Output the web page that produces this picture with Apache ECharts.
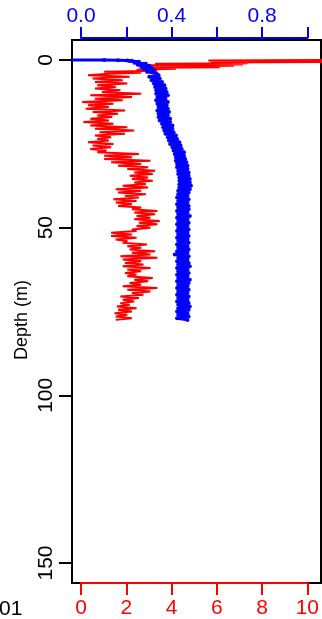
<!DOCTYPE html>
<html>
<head>
<meta charset="utf-8">
<script src="https://cdn.jsdelivr.net/npm/echarts@6/dist/echarts.min.js"></script>
<style>
  html, body { margin: 0; padding: 0; background: #fff; }
  #main { width: 322px; height: 619px; }
</style>
</head>
<body>
<div id="main"></div>
<script>
// tick labels
const depthTicks = [0, 50, 100, 150];
const bottomTicks = [0, 2, 4, 6, 8, 10];
const topTicks = [0, 0.2, 0.4, 0.6, 0.8, 1.0];
const topLabels = ['0.0', '', '0.4', '', '0.8', ''];

// near-surface samples (m)
const redSurfDepth = [0, 0.1, 0.25, 0.4, 0.55, 0.7, 0.9, 1.1, 1.3, 1.5, 1.7, 1.9, 2.1, 2.3, 2.6, 2.9, 3.2, 3.5, 3.8, 4.1];
const redSurfVal = [10.6, 5.5, 10.6, 6.0, 10.6, 5.6, 7.2, 3.2, 7.0, 3.0, 6.6, 3.1, 6.0, 3.1, 4.1, 2.4, 3.3, 1.0, 2.6, 1.2];

const blueSurfDepth = [0, 0, 0.05, 0.1, 0.2, 0.3, 0.5, 0.8, 1.1, 1.4, 1.7, 2.0, 2.3, 2.6, 3.0, 3.5, 4.0];
const blueSurfVal = [-0.04, 0.1, 0.16, 0.2, 0.22, 0.21, 0.25, 0.23, 0.28, 0.245, 0.295, 0.26, 0.305, 0.27, 0.315, 0.285, 0.325];

// profile samples below 4.5 m
const depth = [
  4.5, 5, 5.5, 6, 6.5, 7, 7.5, 8, 8.5, 9,
  9.5, 10, 10.5, 11, 11.5, 12, 12.5, 13, 13.5, 14,
  14.5, 15, 15.5, 16, 16.5, 17, 17.5, 18, 18.5, 19,
  19.5, 20, 20.5, 21, 21.5, 22, 22.5, 23, 23.5, 24,
  24.5, 25, 25.5, 26, 26.5, 27, 27.5, 28, 28.5, 29,
  29.5, 30, 30.5, 31, 31.5, 32, 32.5, 33, 33.5, 34,
  34.5, 35, 35.5, 36, 36.5, 37, 37.5, 38, 38.5, 39,
  39.5, 40, 40.5, 41, 41.5, 42, 42.5, 43, 43.5, 44,
  44.5, 45, 45.5, 46, 46.5, 47, 47.5, 48, 48.5, 49,
  49.5, 50, 50.5, 51, 51.5, 52, 52.5, 53, 53.5, 54,
  54.5, 55, 55.5, 56, 56.5, 57, 57.5, 58, 58.5, 59,
  59.5, 60, 60.5, 61, 61.5, 62, 62.5, 63, 63.5, 64,
  64.5, 65, 65.5, 66, 66.5, 67, 67.5, 68, 68.5, 69,
  69.5, 70, 70.5, 71, 71.5, 72, 72.5, 73, 73.5, 74,
  74.5, 75, 75.5, 76, 76.5, 77, 77.5
];

const redVal = [
  0.3, 2.1, 0.5, 1.8, 0.6, 2.0, 0.7, 1.5, 0.6, 1.7,
  0.9, 2.6, 0.4, 2.2, 0.6, 1.8, 0.05, 1.4, 0.3, 1.2,
  0.2, 1.9, 0.5, 1.6, 0.7, 1.35, 0.4, 1.2, 0.1, 1.4,
  0.4, 2.0, 0.6, 2.3, 0.8, 1.9, 0.6, 1.3, 0.7, 1.2,
  0.3, 1.4, 0.5, 1.3, 0.4, 1.1, 0.7, 2.5, 1.0, 2.2,
  1.0, 3.0, 1.3, 2.6, 1.6, 2.9, 2.0, 3.2, 2.3, 3.1,
  2.1, 2.9, 2.2, 3.1, 2.3, 2.8, 1.8, 2.9, 1.5, 2.6,
  1.6, 2.8, 1.9, 2.5, 1.4, 2.4, 1.5, 2.2, 1.6, 2.6,
  2.2, 3.3, 2.3, 3.2, 2.4, 3.0, 2.3, 3.4, 2.5, 3.3,
  2.4, 3.0, 2.2, 2.4, 1.3, 2.2, 1.3, 2.4, 1.5, 2.0,
  1.8, 2.85, 2.0, 2.6, 2.1, 3.2, 2.2, 3.0, 1.7, 3.3,
  1.8, 2.6, 1.9, 2.7, 1.8, 3.0, 2.0, 2.6, 1.9, 2.4,
  2.0, 3.1, 2.3, 2.9, 2.1, 2.6, 1.8, 3.3, 2.0, 3.0,
  2.2, 2.7, 1.7, 2.5, 1.8, 2.3, 1.7, 2.1, 1.55, 2.4,
  1.6, 2.2, 1.45, 2.0, 1.5, 2.2, 1.5
];

const blueVal = [
  0.335, 0.295, 0.34, 0.305, 0.35, 0.315, 0.36, 0.32, 0.365, 0.325,
  0.37, 0.325, 0.375, 0.33, 0.365, 0.325, 0.375, 0.33, 0.37, 0.335,
  0.375, 0.33, 0.38, 0.335, 0.375, 0.335, 0.385, 0.34, 0.385, 0.35,
  0.395, 0.355, 0.395, 0.36, 0.4, 0.365, 0.41, 0.375, 0.415, 0.38,
  0.425, 0.385, 0.43, 0.395, 0.435, 0.40, 0.445, 0.405, 0.445, 0.41,
  0.45, 0.41, 0.455, 0.415, 0.46, 0.415, 0.46, 0.42, 0.465, 0.42,
  0.465, 0.425, 0.47, 0.425, 0.47, 0.425, 0.475, 0.425, 0.47, 0.42,
  0.465, 0.42, 0.46, 0.415, 0.465, 0.42, 0.46, 0.415, 0.465, 0.42,
  0.465, 0.415, 0.46, 0.42, 0.47, 0.415, 0.46, 0.42, 0.465, 0.415,
  0.46, 0.42, 0.465, 0.415, 0.46, 0.42, 0.465, 0.415, 0.46, 0.42,
  0.465, 0.415, 0.46, 0.42, 0.465, 0.415, 0.46, 0.405, 0.465, 0.42,
  0.46, 0.415, 0.465, 0.42, 0.47, 0.415, 0.46, 0.42, 0.465, 0.415,
  0.46, 0.42, 0.47, 0.415, 0.465, 0.42, 0.46, 0.415, 0.465, 0.42,
  0.46, 0.415, 0.465, 0.42, 0.46, 0.415, 0.465, 0.42, 0.47, 0.42,
  0.465, 0.415, 0.46, 0.42, 0.465, 0.415, 0.46
];

const RED = '#ff0000';
const BLUE = '#0000ff';
const FONT = 'Liberation Sans, Arial, sans-serif';

let redData = [];
redSurfDepth.forEach((d, i) => redData.push([redSurfVal[i], d]));
depth.forEach((d, i) => redData.push([redVal[i], d]));

let blueData = [];
blueSurfDepth.forEach((d, i) => blueData.push([blueSurfVal[i], d]));
depth.forEach((d, i) => blueData.push([blueVal[i], d]));

var chart = echarts.init(document.getElementById('main'));

var option = {
    animation: false,
    backgroundColor: '#fff',
    grid: [
        // plotting region (box)
        { left: 72, right: 1, top: 40, bottom: 36, show: true, borderColor: '#000', borderWidth: 2, backgroundColor: 'transparent' },
        // tick region: from first to last tick
        { left: 81, width: 231, top: 60, height: 503 }
    ],
    xAxis: [
        { gridIndex: 0, type: 'value', min: -0.39, max: 10.37, show: false },
        { gridIndex: 0, type: 'value', min: -0.039, max: 1.037, show: false },
        {
            gridIndex: 1, type: 'value', position: 'top', min: 0, max: 1, interval: 0.2, offset: 22, z: 5,
            axisLine: { show: true, onZero: false, lineStyle: { color: BLUE, width: 2 } },
            axisTick: { show: true, inside: false, length: 11, lineStyle: { color: BLUE, width: 2 } },
            axisLabel: {
                color: BLUE, fontSize: 21, fontFamily: FONT, margin: 11, showMaxLabel: true, showMinLabel: true,
                formatter: v => { let i = topTicks.findIndex(t => Math.abs(t - v) < 1e-6); return i < 0 ? '' : topLabels[i]; }
            },
            splitLine: { show: false }
        },
        {
            gridIndex: 1, type: 'value', position: 'bottom', min: 0, max: 10, interval: 2, offset: 20, z: 5,
            axisLine: { show: true, onZero: false, lineStyle: { color: RED, width: 2 } },
            axisTick: { show: true, inside: false, length: 12, lineStyle: { color: RED, width: 2 } },
            axisLabel: {
                color: RED, fontSize: 21, fontFamily: FONT, margin: 15, showMaxLabel: true, showMinLabel: true,
                formatter: v => bottomTicks.includes(v) ? String(v) : ''
            },
            splitLine: { show: false }
        }
    ],
    yAxis: [
        { gridIndex: 0, type: 'value', inverse: true, min: -6, max: 156, show: false },
        {
            gridIndex: 1, type: 'value', inverse: true, min: 0, max: 150, interval: 50, offset: 9,
            axisLine: { show: false, onZero: false },
            axisTick: { show: true, length: 13, lineStyle: { color: '#000', width: 2 } },
            axisLabel: {
                color: '#000', fontSize: 21, fontFamily: FONT, rotate: 90, margin: 15,
                formatter: v => depthTicks.includes(v) ? String(v) : ''
            },
            splitLine: { show: false }
        }
    ],
    graphic: [
        {
            type: 'text', x: 22, y: 320, rotation: Math.PI / 2,
            style: { text: 'Depth (m)', fontSize: 18, fontFamily: FONT, fill: '#000', align: 'center', verticalAlign: 'middle' }
        },
        {
            type: 'text', x: -1, y: 609,
            style: { text: '01', fontSize: 21, fontFamily: FONT, fill: '#000', align: 'left', verticalAlign: 'middle' }
        }
    ],
    series: [
        {
            name: 'red', type: 'line', xAxisIndex: 0, yAxisIndex: 0,
            data: redData, showSymbol: false, clip: true,
            lineStyle: { color: RED, width: 2 }
        },
        {
            name: 'blue', type: 'line', xAxisIndex: 1, yAxisIndex: 0,
            data: blueData, showSymbol: true, showAllSymbol: true, symbol: 'circle', symbolSize: 4, clip: true,
            itemStyle: { color: BLUE },
            lineStyle: { color: BLUE, width: 3 }
        }
    ]
};

chart.setOption(option);
</script>
</body>
</html>
